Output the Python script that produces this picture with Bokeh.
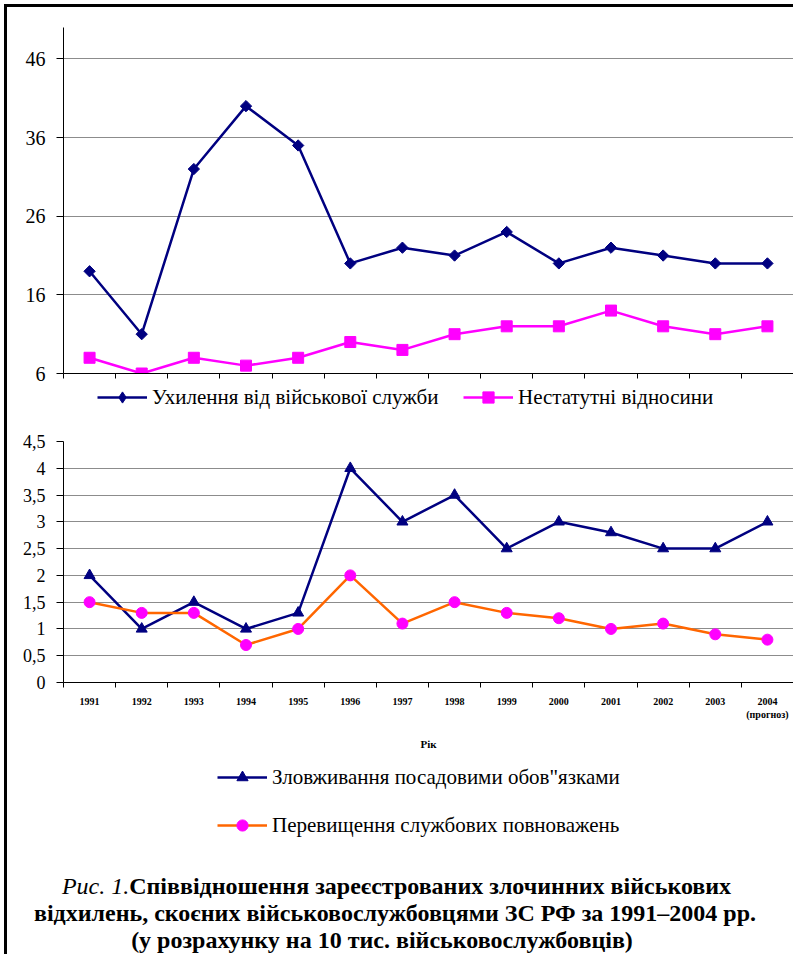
import math
from bokeh.plotting import figure
from bokeh.models import FixedTicker, Legend, LegendItem, Range1d, Div
from bokeh.layouts import column
from bokeh.embed import file_html
from bokeh.resources import INLINE

years = ["1991", "1992", "1993", "1994", "1995", "1996", "1997",
         "1998", "1999", "2000", "2001", "2002", "2003", "2004"]
year_labels = years[:-1] + ["2004\n(прогноз)"]
evasion = [19, 11, 32, 40, 35, 20, 22, 21, 24, 20, 22, 21, 20, 20]
hazing = [8, 6, 8, 7, 8, 10, 9, 11, 12, 12, 14, 12, 11, 12]
abuse = [2, 1, 1.5, 1, 1.3, 4, 3, 3.5, 2.5, 3, 2.8, 2.5, 2.5, 3]
excess = [1.5, 1.3, 1.3, 0.7, 1.0, 2.0, 1.1, 1.5, 1.3, 1.2, 1.0, 1.1, 0.9, 0.8]
top_ticks = [6, 16, 26, 36, 46]
bottom_ticks = [0, 0.5, 1, 1.5, 2, 2.5, 3, 3.5, 4, 4.5]

label_evasion = "Ухилення від військової служби"
label_hazing = "Нестатутні відносини"
label_abuse = "Зловживання посадовими обов\"язками"
label_excess = "Перевищення службових повноважень"
axis_title = "Рік"
caption_italic = "Рис. 1."
caption_1 = "Співвідношення зареєстрованих злочинних військових"
caption_2 = "відхилень, скоєних військовослужбовцями ЗС РФ за 1991–2004 рр."
caption_3 = "(у розрахунку на 10 тис. військовослужбовців)"

NAVY = "#000080"
MAGENTA = "#FF00FF"
ORANGE = "#FF6600"
GRID = "#8c8c8c"
SERIF = "Liberation Serif"
W = 786          # width of every block
L = 56           # common left border (frames are aligned by the column)
FW = W - L       # frame width

xs = list(range(1, len(years) + 1))
bounds = [i + 0.5 for i in range(0, len(years) + 1)]


def style_axes(p, ylabels_size, yticks):
    p.outline_line_color = None
    p.xgrid.visible = False
    p.ygrid.ticker = FixedTicker(ticks=yticks)
    p.ygrid.grid_line_color = GRID
    p.ygrid.grid_line_width = 1
    xa = p.xaxis[0]
    xa.ticker = FixedTicker(ticks=xs, minor_ticks=bounds)
    xa.major_tick_out = 0
    xa.major_tick_in = 0
    xa.minor_tick_out = 5
    xa.minor_tick_in = 0
    xa.minor_tick_line_color = "black"
    xa.axis_line_color = "black"
    ya = p.yaxis[0]
    ya.ticker = FixedTicker(ticks=yticks)
    ya.minor_tick_line_color = None
    ya.major_tick_out = 7
    ya.major_tick_in = 0
    ya.major_label_standoff = 11
    ya.major_label_text_font = SERIF
    ya.major_label_text_font_size = ylabels_size
    ya.major_label_text_color = "black"
    ya.axis_line_color = "black"
    ya.major_tick_line_color = "black"


def blank(h):
    f = figure(width=W, height=h, output_backend="svg", toolbar_location=None,
               x_range=Range1d(0, FW), y_range=Range1d(0, h),
               x_axis_type=None, y_axis_type=None,
               min_border_left=L, min_border_right=0,
               min_border_top=0, min_border_bottom=0)
    f.outline_line_color = None
    return f


def add_legend(f, label, yvals, line_color, marker, mfill, angle, gh, x, y):
    lr = f.line(xs, yvals, line_color=line_color, line_width=2.5, visible=False)
    sr = f.scatter(xs, yvals, marker=marker, angle=angle,
                   fill_color=mfill, line_color=mfill, line_width=1,
                   visible=False)
    leg = Legend(items=[LegendItem(label=label, renderers=[lr, sr])],
                 location=(x, y), orientation="vertical", padding=0, margin=0,
                 spacing=0, glyph_width=50, glyph_height=gh, label_height=20,
                 label_standoff=5, label_text_font=SERIF,
                 label_text_font_size="21px", label_text_color="black",
                 border_line_color=None, background_fill_alpha=0,
                 inactive_fill_alpha=0, click_policy="none")
    f.add_layout(leg)


# ---------- top chart ----------
p1 = figure(width=W, height=376, output_backend="svg", toolbar_location=None,
            x_range=Range1d(0.5, 14.5), y_range=Range1d(6, 50),
            min_border_left=L, min_border_right=0, min_border_top=20,
            min_border_bottom=10)
style_axes(p1, "20px", top_ticks)
p1.xaxis[0].major_label_overrides = {x: "" for x in xs}
p1.xaxis[0].major_label_text_font_size = "1px"
p1.xaxis[0].major_label_standoff = 0

p1.line(xs, evasion, line_color=NAVY, line_width=2.5)
p1.scatter(xs, evasion, marker="square", angle=math.pi / 4, size=8,
           fill_color=NAVY, line_color=NAVY, line_width=1)
p1.line(xs, hazing, line_color=MAGENTA, line_width=2.5)
p1.scatter(xs, hazing, marker="square", size=11,
           fill_color=MAGENTA, line_color=MAGENTA, line_width=1)

# ---------- top legend ----------
lg1 = blank(27)
add_legend(lg1, label_evasion, evasion, NAVY, "diamond", NAVY, 0,
           28, 34, -1)
add_legend(lg1, label_hazing, hazing, MAGENTA, "square", MAGENTA, 0,
           28, 400, -1)

# ---------- bottom chart ----------
p2 = figure(width=W, height=342, output_backend="svg", toolbar_location=None,
            x_range=Range1d(0.5, 14.5), y_range=Range1d(0, 4.5),
            min_border_left=L, min_border_right=0, min_border_top=31,
            min_border_bottom=69)
style_axes(p2, "18px", bottom_ticks)
p2.yaxis[0].major_label_overrides = {
    t: (str(int(t)) if float(t).is_integer() else str(t).replace(".", ","))
    for t in bottom_ticks}
xa2 = p2.xaxis[0]
xa2.major_label_overrides = {x: lab for x, lab in zip(xs, year_labels)}
xa2.major_label_text_font = SERIF
xa2.major_label_text_font_style = "bold"
xa2.major_label_text_font_size = "10px"
xa2.major_label_text_color = "black"
xa2.major_label_standoff = 8
xa2.axis_label = axis_title
xa2.axis_label_text_font = SERIF
xa2.axis_label_text_font_style = "bold"
xa2.axis_label_text_font_size = "11px"
xa2.axis_label_text_color = "black"
xa2.axis_label_standoff = 15

p2.line(xs, abuse, line_color=NAVY, line_width=2.5)
p2.scatter(xs, abuse, marker="triangle", size=11,
           fill_color=NAVY, line_color=NAVY, line_width=1)
p2.line(xs, excess, line_color=ORANGE, line_width=2.5)
p2.scatter(xs, excess, marker="circle", size=11,
           fill_color=MAGENTA, line_color=MAGENTA, line_width=1)

# ---------- bottom legend ----------
lg2 = blank(88)
add_legend(lg2, label_abuse, abuse, NAVY, "triangle", NAVY, 0, 28, 154, 49)
add_legend(lg2, label_excess, excess, ORANGE, "circle", MAGENTA, 0, 28, 154, 1)

# ---------- caption ----------
caption_html = (
    "<div style=\"font-family:'Liberation Serif',serif;font-size:24px;"
    "font-weight:bold;color:#000;line-height:27px;padding-top:33px;"
    "white-space:nowrap;width:786px;\">"
    "<div style=\"text-align:center;padding-right:7px;\">"
    "<span style=\"font-style:italic;font-weight:normal;\">" + caption_italic +
    "</span>" + caption_1 + "</div>"
    "<div style=\"text-align:center;padding-right:10px;\">" + caption_2 +
    "</div>"
    "<div style=\"text-align:center;padding-right:36px;\">" + caption_3 +
    "</div></div>")
cp = Div(text=caption_html, width=W, height=114, margin=0)

layout = column(p1, lg1, p2, lg2, cp, spacing=0, margin=(4, 0, 0, 4),
                styles={"border-left": "3px solid black",
                        "border-top": "3px solid black"})

with open("out.html", "w") as f:
    f.write(file_html(layout, INLINE))
